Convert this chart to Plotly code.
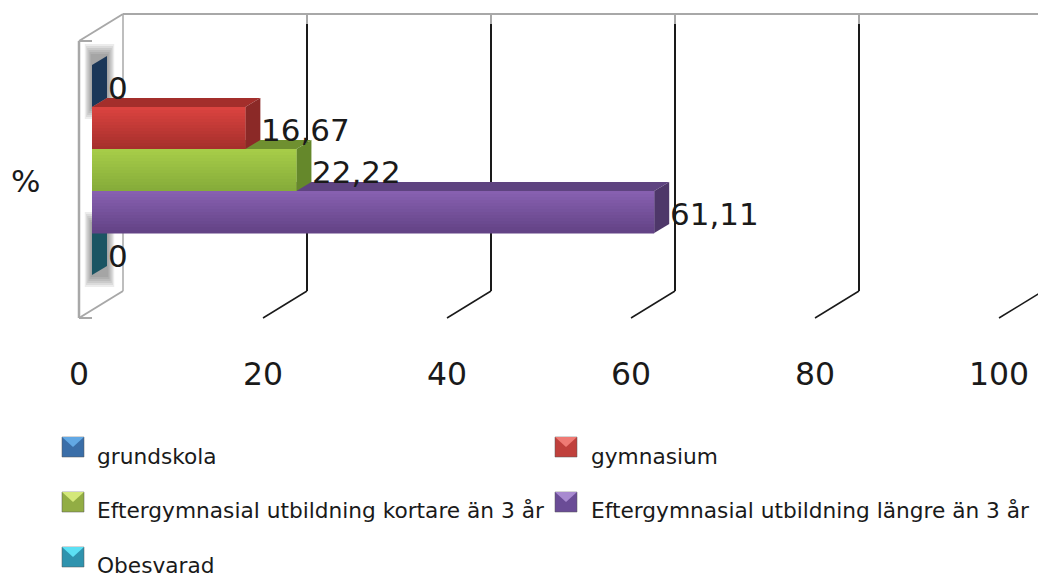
import plotly.graph_objects as go

series = ["grundskola", "gymnasium", "Eftergymnasial utbildning kortare än 3 år",
          "Eftergymnasial utbildning längre än 3 år", "Obesvarad"]
values = [0, 16.67, 22.22, 61.11, 0]
labels = ["0", "16,67", "22,22", "61,11", "0"]
ticks = [0, 20, 40, 60, 80, 100]
category = "%"

W, H = 1038, 574
L, T, B = 79, 32, 309
PX = 9.2
BASE = 13 / PX
DX, DY = 15, 9
face_top = ["#2a4d7c", "#da433f", "#a6cc48", "#8760b0", "#2a7d90"]
face_bot = ["#1d3a60", "#a62f2c", "#86ac3a", "#634386", "#1a5664"]
side = ["#1b3758", "#8b2927", "#65882b", "#4e3769", "#1b5563"]
top_c = ["#1b3758", "#a32e2b", "#6f9030", "#5e4380", "#1b5563"]
sw_top = ["#62a8e4", "#ef7a74", "#d4e87a", "#a88ad0", "#5ce0f4"]
sw_main = ["#3a6ea8", "#c0403c", "#92ad44", "#6a4c96", "#2f93ae"]
sw_pos = [(62, 437), (555, 437), (62, 492), (555, 492), (62, 547)]
text_pos = [(95, 456), (589, 456), (95, 510), (589, 510), (95, 565)]
bar_rows = [(65, 107), (107, 149), (149, 191), (191, 233), (233, 275)]
draw_order = [4, 3, 2, 0, 1]


def py(p):
    return (B - p) / (B - T)


def px(p):
    return (p - L) / (W - L)


shapes, ann = [], []


def line(x0, y0, x1, y1, color, width):
    shapes.append(dict(type="line", xref="paper", yref="paper", x0=px(x0), x1=px(x1),
                       y0=py(y0), y1=py(y1), line=dict(color=color, width=width), layer="below"))


# walls and grid
wall = "#a8a8a8"
line(79, 41, 123, 14, wall, 2)
line(123, 14, W, 14, wall, 2)
line(79, 41, 79, 318, wall, 2.5)
line(123, 14, 123, 291, wall, 1.5)
line(79, 318, 123, 291, wall, 2)
line(79, 41, 92, 41, wall, 2)
line(79, 318, 92, 318, wall, 2)
for t in ticks[1:]:
    x = 79 + t * PX
    line(x + 44, 14, x + 44, 291, "#1a1a1a", 2)
    line(x + 44, 14, x + 44, 24, wall, 2)
    line(x, 318, x + 44, 291, "#1a1a1a", 1.5)

# soft shadow round the empty bars
for i in (0, 4):
    y0, y1 = bar_rows[i]
    for g in (12, 10, 8, 6, 4, 2):
        shapes.append(dict(type="rect", xref="paper", yref="paper", x0=px(92 - g * 0.6), x1=px(107 + g * 0.6),
                           y0=py(y0 - DY - g), y1=py(y1 + g), fillcolor="rgba(70,70,70,0.10)",
                           line_width=0, layer="below"))

# depth faces, computed from the values
for i in draw_order:
    v = values[i]
    y0, y1 = bar_rows[i]
    d = DX / PX
    sa, sb = py(y0), py(y1)
    ta = py(y0 - DY)
    tb = py(y1 - DY)
    shapes.append(dict(type="path", xref="x2", yref="paper", layer="below", line_width=0,
                       fillcolor=top_c[i],
                       path=f"M0,{sa} L{v},{sa} L{v + d},{ta} L{d},{ta} Z"))
    shapes.append(dict(type="path", xref="x2", yref="paper", layer="below", line_width=0,
                       fillcolor=side[i],
                       path=f"M{v},{sa} L{v + d},{ta} L{v + d},{tb} L{v},{sb} Z"))


def mix(a, b, f):
    ca = [int(a[k:k + 2], 16) for k in (1, 3, 5)]
    cb = [int(b[k:k + 2], 16) for k in (1, 3, 5)]
    return "rgb(%d,%d,%d)" % tuple(round(p + (q - p) * f) for p, q in zip(ca, cb))


# vertical shading on the front faces
for i, v in enumerate(values):
    if v == 0:
        continue
    y0, y1 = bar_rows[i]
    n = 14
    for k in range(n):
        a = y0 + (y1 - y0) * k / n
        b = y0 + (y1 - y0) * (k + 1) / n
        shapes.append(dict(type="rect", xref="x2", yref="paper", x0=0, x1=v, y0=py(a), y1=py(b),
                           fillcolor=mix(face_top[i], face_bot[i], k / (n - 1)), line_width=0, layer="above"))

# data labels
for i, v in enumerate(values):
    y0, y1 = bar_rows[i]
    ann.append(dict(x=v, xref="x2", y=py((y0 + y1) / 2 + 2), yref="paper", text=labels[i], showarrow=False,
                    xanchor="left", yanchor="middle", xshift=DX, font=dict(size=31, color="#1a1a1a"), borderpad=0))

ann.append(dict(x=px(9), xref="paper", y=py(181), yref="paper", text=category, showarrow=False,
                xanchor="left", yanchor="middle", font=dict(size=31, color="#1a1a1a")))

# legend
for i, name in enumerate(series):
    x, y = sw_pos[i]
    shapes.append(dict(type="rect", xref="paper", yref="paper", x0=px(x), x1=px(x + 22), y0=py(y), y1=py(y + 20),
                       fillcolor=sw_main[i], line=dict(color="#555555", width=0.5), layer="above"))
    shapes.append(dict(type="path", xref="paper", yref="paper", line_width=0, fillcolor=sw_top[i], layer="above",
                       path=f"M{px(x)},{py(y)} L{px(x + 22)},{py(y)} L{px(x + 11)},{py(y + 10)} Z"))
    tx, ty = text_pos[i]
    ann.append(dict(x=px(tx), xref="paper", y=py(ty), yref="paper", text=name, showarrow=False,
                    xanchor="left", yanchor="middle", font=dict(size=21.7, color="#1a1a1a")))

fig = go.Figure()
for i, name in enumerate(series):
    fig.add_trace(go.Bar(name=name, y=[category], x=[values[i]], orientation="h",
                         xaxis="x2", yaxis="y", marker=dict(color=face_bot[i], line_width=0),
                         showlegend=False, hoverinfo="name+x"))
# keeps the tick axis alive; nothing is visible from this trace
fig.add_trace(go.Scatter(x=ticks, y=[category] * len(ticks), xaxis="x", yaxis="y", mode="markers",
                         marker=dict(opacity=0), showlegend=False, hoverinfo="skip"))

fig.update_layout(
    width=W, height=H, autosize=False,
    margin=dict(l=L, r=0, t=T, b=H - B, pad=0),
    paper_bgcolor="white", plot_bgcolor="rgba(0,0,0,0)",
    font=dict(family="DejaVu Sans", color="#1a1a1a"),
    barmode="group", bargap=0.242, bargroupgap=0,
    shapes=shapes, annotations=ann, showlegend=False,
    xaxis=dict(range=[0, (W - L) / PX], tickvals=ticks, ticktext=[str(t) for t in ticks],
               showgrid=False, zeroline=False, showline=False, ticks="outside", ticklen=37,
               tickcolor="rgba(0,0,0,0)", tickfont=dict(size=31.5, color="#1a1a1a"), automargin=False),
    xaxis2=dict(range=[-BASE, (W - L) / PX - BASE], overlaying="x", side="top", visible=False),
    yaxis=dict(type="category", range=[0.5, -0.5], showticklabels=False, showgrid=False,
               zeroline=False, showline=False, ticks="", automargin=False),
)

fig.write_html("out.html", config=dict(displayModeBar=False),
               post_script="document.body.style.margin='0';")
